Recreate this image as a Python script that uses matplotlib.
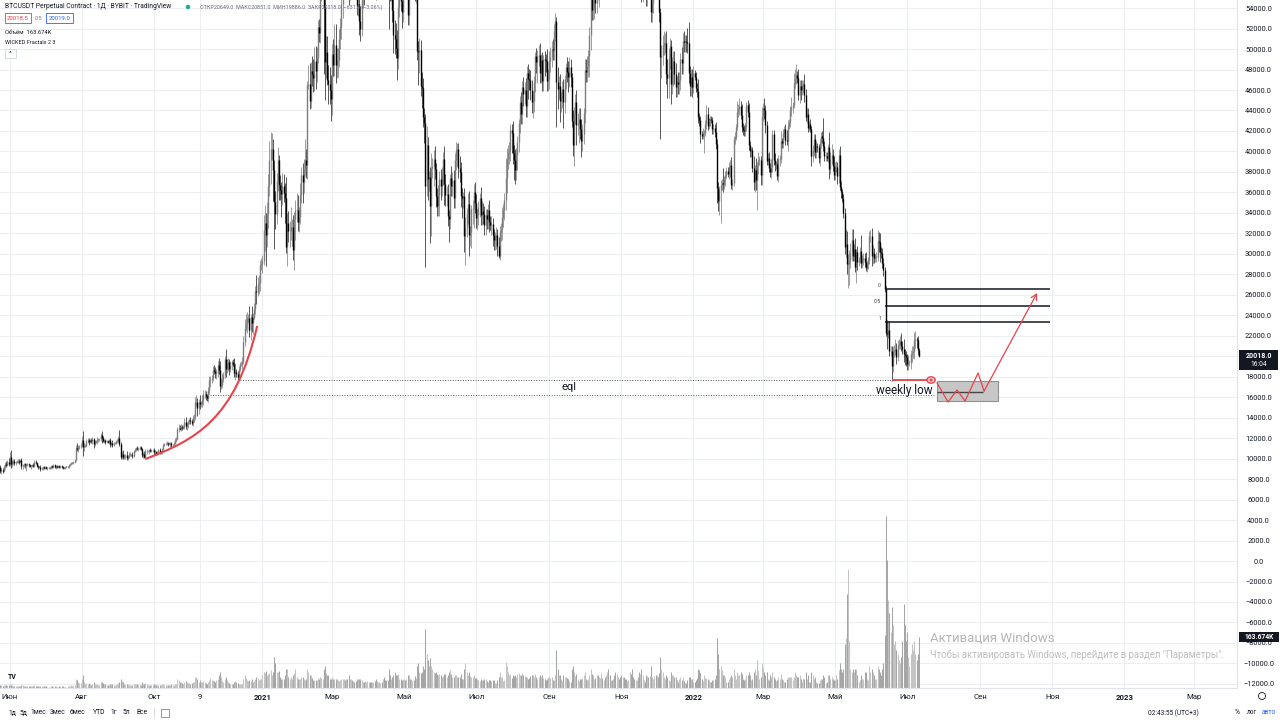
import numpy as np
import matplotlib
matplotlib.use('Agg')
import matplotlib.pyplot as plt
from matplotlib.path import Path
from matplotlib.patches import PathPatch, Rectangle, Ellipse, FancyArrowPatch

plt.rcParams['font.family'] = ['Roboto', 'DejaVu Sans']

# ---------------- data (daily BTCUSDT, values in hundreds of USDT) ----------------
start_date = np.datetime64('2020-05-24')
first_open = 91.8

close = [
 88,89,88,92,95,94,97,95,
 102,95,97,98,96,97,97,98,97,99, 93,94,95,94,94,95,94,93,93,94, 93,97,96,93,92,92,90,91,92,91,
 92,91,91,91,91,93,92,94,92,93, 92,93,92,93,92,91,91,92,92,92, 94,95,96,96,97,99,110,109,111,112, 113,
 118,111,112,112,117,118,116,118,117,119, 114,116,117,118,119,119,123,120,117,118, 116,117,116,118,114,115,113,115,115,117, 117,
 120,114,102,105,102,103,104,101,102,104, 104,104,103,107,108,110,109,109,111,109, 104,105,102,107,107,107,108,107,108,108,
 106,106,105,106,108,106,106,109,113,114, 114,115,114,114,115,113,113,115,118,119, 129,130,129,131,130,131,136,132,134,136, 138,
 137,135,140,141,155,155,149,155,153,153, 157,163,163,161,159,167,177,178,179,187, 186,184,184,191,187,171,172,178,182,197,
 188,192,194,188,191,194,192,184,185,183, 180,188,192,192,194,214,228,231,237,237, 226,238,232,237,246,264,263,271,272,289, 290,
 293,323,330,318,339,366,392,402,402,382, 351,339,371,392,367,362,358,366,359,355, 307,330,322,322,326,326,304,334,343,343, 331,
 336,357,377,370,383,392,387,465,466,449, 479,476,472,488,479,492,522,516,558,559, 575,541,487,497,470,466,460,451,
 495,484,504,484,489,489,510,522,544,559, 577,572,612,592,558,565,588,578,585,581, 576,542,544,527,520,550,559,557,579,588, 588,
 591,590,574,582,590,583,561,580,585,597, 600,598,633,631,630,614,603,561,557,564, 538,514,510,501,491,541,551,547,536,578,
 578,568,574,533,577,564,574,589,584,557, 566,498,497,499,464,462,434,428,366,406, 373,375,347,384,386,393,383,356,347,357, 373,
 366,377,393,368,357,358,337,334,374,366, 372,355,392,401,402,384,380,356,355,356, 317,326,339,349,318,321,344,345,360,350,
 335,338,346,355,338,342,339,328,338,334, 343,331,328,329,318,314,315,318,308,298, 321,324,336,343,353,374,393,398,401,421, 418,
 398,392,382,397,409,428,448,437,463,456, 460,444,477,471,470,460,448,449,468,493, 487,493,494,477,489,469,490,489,488,469, 471,
 488,492,500,499,518,527,468,461,464,449, 452,461,448,471,482,478,473,482,473,430, 406,437,448,426,428,432,422,410,417,438,
 480,478,483,493,514,555,538,539,549,545, 573,561,573,576,612,605,619,618,642,659, 627,606,612,608,632,603,585,609,622,618, 613,
 610,630,626,612,610,615,634,676,670,648, 647,643,645,654,636,602,603,566,580,591, 585,562,574,571,589,536,545,575,578,570,
 572,565,536,492,494,504,506,506,476,472, 491,503,466,484,488,476,463,468,466,470, 490,486,508,507,508,507,506,477,464,473, 463,
 477,473,462,459,434,431,417,415,418,418, 427,437,425,430,432,431,422,423,419,407, 364,352,362,367,369,368,372,377,381,378, 385,
 387,367,369,412,414,424,439,441,444,436, 424,421,420,425,445,439,406,400,401,384, 370,382,372,386,392,392,377,435,
 442,440,426,391,394,384,380,385,417,392, 388,388,376,393,393,410,408,418,422,411, 410,425,429,440,443,445,467,471,475,472, 455,
 464,460,465,466,455,434,437,423,427,422, 396,401,412,399,405,404,394,408,415,413, 405,396,396,394,404,383,393,397,386,377,
 385,385,376,397,365,360,355,340,307,310, 290,290,294,301,314,298,305,287,302,292, 294,303,291,294,296,292,286,290,294,317, 317,
 298,301,296,297,297,313,312,302,301,291, 284,266,223,222,226,205,205,190,205,206, 207,199,211,212,215,210,207,202,201,199,
 192,193,193,202,203,205,216,217,216,206.5, 200.18,
]

wick_up = [
 2,2,2,2,2,3,2,4,
 4,6,2,2,2,1,2,2,2,1, 2,1,1,1,2,1,1,1,1,1, 2,2,2,1,1,1,2,1,1,1,
 1,1,1,1,1,1,1,1,1,1, 1,1,1,1,1,1,1,1,1,1, 1,1,1,1,1,1,3,5,2,1, 2,
 4,9,3,2,2,2,2,1,2,2, 1,2,1,3,1,1,2,4,2,1, 1,1,1,1,2,1,3,1,1,1, 2,
 2,8,2,2,3,2,1,3,2,2, 2,1,2,1,2,1,2,2,1,1, 1,1,2,2,2,1,1,2,1,1,
 2,2,1,1,1,2,1,1,2,1, 2,2,1,2,1,1,1,1,2,2, 2,4,3,3,2,2,4,5,2,2, 2,
 3,2,3,3,5,7,4,3,7,3, 5,4,4,3,2,3,4,3,3,3, 4,3,4,4,7,8,7,6,3,3,
 10,5,4,3,4,2,3,6,8,3, 3,2,2,3,5,6,8,10,6,4, 12,3,11,5,6,5,15,6,7,5, 6,
 6,15,18,10,12,12,18,17,16,10, 10,10,8,12,5,10,8,13,12,10, 20,10,12,10,20,8,12,7,10,16, 14,
 10,12,8,12,10,20,10,4,18,20, 8,14,14,14,15,10,6,7,12,10, 8,10,8,16,16,14,16,15,
 10,15,20,20,12,12,10,8,14,15, 8,20,6,20,18,25,8,20,12,15, 12,20,15,28,15,5,10,15,15,10, 10,
 10,15,26,15,10,15,28,15,15,15, 15,22,4,15,20,25,25,3,26,16, 24,22,14,15,18,10,20,14,15,10,
 8,10,10,2,8,10,12,10,6,20, 8,14,10,12,10,14,10,8,9,19, 8,6,10,14,8,8,12,6,8,10, 8,
 10,8,6,12,10,8,10,6,4,12, 8,10,6,8,6,6,12,10,8,4, 8,10,6,10,12,6,4,8,8,10,
 8,6,6,4,10,10,8,8,6,6, 6,10,6,8,6,6,6,8,6,8, 6,6,10,6,6,20,10,8,8,6, 6,
 12,8,10,6,6,4,6,10,6,10, 8,12,6,8,10,10,10,10,6,4, 8,6,10,12,6,8,4,8,6,12, 10,
 10,10,8,10,6,8,4,14,10,12, 6,8,10,4,4,10,10,10,8,4, 10,6,8,12,10,10,10,10,10,4,
 10,10,10,6,8,6,10,10,6,8, 6,12,6,10,10,14,8,12,10,7, 16,12,8,10,8,10,10,8,8,12, 8,
 10,16,16,10,10,10,6,4,8,20, 10,8,8,12,14,8,6,12,10,10, 12,10,8,10,8,10,10,10,14,16,
 20,10,10,4,10,10,12,10,12,14, 10,8,6,8,10,10,10,6,10,8, 6,12,8,10,6,6,14,20,6,8, 8,
 6,3,5,5,12,4,4,3,5,3, 4,8,6,3,3,3,3,4,4,10, 5,6,4,5,4,15,4,4,4,4, 5,
 5,8,4,3,5,3,10,5,8,5, 10,4,5,3,3,5,8,4,3,3, 12,5,12,4,7,4,4,8,
 5,10,5,4,4,5,5,8,4,4, 6,3,6,4,4,10,3,4,3,5, 10,6,3,4,10,3,10,10,10,4, 9,
 6,6,5,4,10,6,5,5,3,5, 3,5,5,5,5,3,3,4,4,5, 20,5,3,3,3,15,6,10,5,10,
 5,6,5,5,8,6,3,3,5,14, 12,10,10,10,10,10,5,10,3,6, 3,4,15,5,5,5,10,3,3,5, 6,
 8,8,5,3,5,10,8,8,5,5, 5,3,3,12,8,8,5,5,5,5, 10,6,5,5,5,8,5,10,5,4,
 3,8,3,4,7,5,8,8,2,4, 2,
]

wick_dn = [
 2,3,2,1,2,2,1,2,
 2,4,3,3,2,2,1,1,2,1, 3,3,2,3,6,1,2,1,3,1, 1,1,1,1,2,1,2,1,2,1,
 1,1,2,1,1,1,1,1,1,2, 1,1,1,1,1,1,1,1,1,1, 1,1,1,1,1,1,1,2,3,2, 2,
 2,8,4,1,1,2,3,1,2,3, 4,2,1,3,2,2,2,5,1,2, 2,1,1,2,3,2,2,1,1,1, 2,
 1,2,2,2,2,2,3,2,2,1, 1,1,2,1,1,1,1,2,1,1, 2,3,1,1,2,1,2,1,1,1,
 2,2,1,1,1,1,1,1,1,1, 1,1,2,1,3,2,1,1,1,2, 1,3,1,2,2,1,2,3,4,4, 2,
 3,2,3,4,3,4,7,5,5,3, 3,5,4,4,3,4,4,7,4,3, 3,5,6,4,4,6,3,3,3,3,
 8,4,6,6,3,4,2,4,7,3, 4,2,2,2,4,2,4,3,8,4, 7,10,8,10,1,5,12,4,10,8, 5,
 9,4,20,30,11,14,10,24,10,30, 46,15,10,10,14,9,22,10,8,25, 6,19,10,15,8,18,10,20,20,12, 9,
 10,7,7,20,11,7,13,14,4,8, 7,12,14,13,18,11,6,9,10,11, 10,65,37,15,5,20,14,21,
 15,10,10,17,12,16,7,10,12,14, 10,12,10,10,15,10,9,10,18,15, 12,9,10,13,12,7,10,14,7,12, 10,
 10,12,15,10,15,10,13,10,15,10, 10,12,15,10,10,15,10,41,10,10, 12,18,15,10,21,10,10,10,15,10,
 12,10,15,10,10,10,10,10,15,10, 12,9,32,20,10,20,10,20,79,10, 20,12,36,30,10,20,10,10,10,10, 20,
 13,10,10,20,10,10,10,22,10,10, 10,10,10,10,15,10,10,10,20,10, 15,28,10,10,20,10,15,15,20,10,
 10,12,10,10,10,10,10,10,10,10, 10,10,5,10,10,10,10,10,10,2, 4,8,10,10,10,10,15,10,10,10, 20,
 10,20,14,10,15,10,10,10,10,12, 10,10,10,20,10,10,10,15,10,10, 10,20,10,10,10,10,10,15,10,10, 10,
 10,10,10,10,10,10,44,20,10,20, 10,10,25,10,10,10,15,10,10,6, 10,20,10,20,10,20,10,15,10,10,
 10,10,10,10,20,15,10,10,10,10, 10,10,20,10,10,20,10,10,20,10, 20,10,10,10,10,10,20,20,10,10, 20,
 10,10,20,10,10,10,10,10,15,10, 20,20,10,10,20,10,20,20,20,10, 10,20,20,10,10,10,10,10,15,10,
 20,10,10,80,20,10,10,10,10,20, 20,10,20,10,20,10,10,10,10,10, 10,10,10,10,10,10,10,10,10,10, 10,
 6,3,4,6,6,6,9,3,3,20, 3,5,4,3,5,3,5,5,5,5, 14,10,14,32,5,8,5,6,3,3, 5,
 10,4,5,3,5,3,3,5,5,4, 5,5,5,5,5,5,5,5,5,4, 8,10,10,29,8,5,10,10,
 5,8,8,4,4,4,5,6,5,5, 7,5,4,6,7,4,5,5,4,5, 4,10,3,5,5,5,3,5,5,5, 5,
 8,10,5,8,7,4,6,4,3,3, 10,6,5,5,5,5,5,8,5,5, 5,5,5,3,4,10,5,5,5,5,
 5,5,8,7,3,5,4,5,7,10, 10,23,20,8,8,5,5,5,15,8, 4,3,5,5,5,5,3,4,5,4, 5,
 10,8,5,4,5,4,10,10,5,5, 6,3,3,15,4,5,5,14,5,6, 5,7,4,4,5,5,5,8,10,9,
 5,5,3,5,8,5,8,8,8,5, 1.3,
]

volume_k = [
 8,9,7,10,9,8,9,10,
 12,10,8,7,6,5,6,7,6,7, 10,8,6,5,6,7,6,6,5,5, 6,8,7,7,6,5,6,5,6,5,
 5,5,4,4,4,5,5,6,5,5, 4,4,5,5,5,5,4,4,4,5, 7,7,8,7,8,10,30,25,18,15, 16,
 30,40,18,14,16,14,16,12,10,14, 18,14,12,12,10,10,20,18,16,12, 12,10,8,10,14,12,14,10,8,9, 12,
 16,18,30,22,20,14,12,14,12,11, 10,9,10,12,13,14,12,10,10,10, 18,14,14,16,12,10,9,10,9,10,
 12,14,10,9,10,10,9,12,14,11, 9,10,10,10,10,12,9,9,12,14, 30,26,20,18,16,14,20,22,18,17, 16,
 14,16,18,20,36,35,28,20,24,18, 20,22,20,16,14,18,26,32,24,26, 22,20,24,28,40,50,34,22,20,28,
 36,26,18,16,14,12,14,20,22,18, 16,14,12,12,14,30,42,32,24,22, 26,22,28,20,22,30,36,32,26,30, 28,
 40,50,48,54,40,44,48,56,40,50, 100,80,50,52,54,36,30,28,30,40, 62,60,36,28,34,30,40,48,60,36, 30,
 30,30,34,34,30,26,30,60,52,40, 40,32,26,24,26,24,32,30,36,32, 30,62,70,48,40,40,30,30,
 34,28,28,30,30,24,22,26,30,30, 28,26,28,30,40,30,30,26,22,20, 22,30,30,30,30,26,18,18,22,20, 22,
 20,18,20,18,20,22,28,22,18,18, 16,20,28,36,26,26,24,60,40,28, 34,40,50,40,40,44,30,30,26,30,
 26,24,30,40,40,30,28,24,26,38, 32,70,80,52,48,50,70,60,190,110, 90,70,96,70,60,50,48,50,46,40, 44,
 40,36,38,46,44,34,40,50,56,44, 36,36,40,40,36,36,34,44,30,30, 60,80,50,40,52,38,36,36,40,32,
 32,28,24,22,28,26,24,30,30,22, 18,24,24,22,24,24,16,16,24,36, 50,36,34,22,24,84,70,50,40,46, 32,
 40,38,40,36,44,48,40,42,48,42, 38,34,36,30,32,38,40,40,36,46, 36,30,36,42,36,40,32,28,24,30, 36,
 36,32,36,24,26,40,120,60,40,40, 30,22,40,34,34,32,28,22,18,60, 70,50,38,46,30,22,30,30,32,40,
 50,30,24,30,40,60,44,40,28,32, 40,40,36,32,48,32,26,34,40,50, 60,40,26,24,30,40,50,44,36,30, 34,
 40,36,34,30,28,22,26,50,44,60, 36,30,26,24,36,52,44,60,42,26, 20,40,38,36,38,70,34,30,38,40,
 40,34,48,100,60,50,34,30,40,36, 24,22,50,40,40,36,36,24,20,30, 34,26,34,22,16,16,24,36,36,30, 30,
 20,18,26,32,60,56,48,30,22,40, 32,32,30,26,20,18,24,26,30,40, 160,110,60,70,56,40,40,36,20,20, 30,
 34,40,36,60,40,30,50,40,40,50, 46,30,26,30,40,40,50,40,24,30, 50,60,40,90,56,30,36,80,
 66,50,40,50,30,26,40,36,50,36, 30,22,26,34,30,44,28,26,20,18, 30,34,36,36,34,24,34,50,40,36, 36,
 40,30,20,30,30,50,30,40,20,20, 50,40,30,36,20,16,16,24,30,30, 40,34,16,18,40,40,30,36,30,24,
 26,40,30,56,80,60,50,60,140,160, 300,380,150,60,50,60,50,60,60,40, 20,24,40,30,30,50,50,30,24,70, 50,
 60,50,40,30,30,70,60,50,40,60, 80,170,550,410,280,240,180,260,200,140, 150,120,110,90,80,100,150,270,200,150,
 180,100,70,110,140,120,150,110,90,110, 163.674,
]

tick_dates = ['2020-06-01', '2020-08-01', '2020-10-01', '2020-11-09', '2021-01-01', '2021-03-01',
              '2021-05-01', '2021-07-01', '2021-09-01', '2021-11-01', '2022-01-01', '2022-03-01',
              '2022-05-01', '2022-07-01', '2022-09-01', '2022-11-01', '2023-01-01', '2023-03-01']
tick_labels = ['Июн', 'Авг', 'Окт', '9', '2021', 'Мар', 'Май', 'Июл', 'Сен', 'Ноя',
               '2022', 'Мар', 'Май', 'Июл', 'Сен', 'Ноя', '2023', 'Мар']
year_labels = {'2021', '2022', '2023'}

price_ticks = list(range(-12000, 54001, 2000))

# annotation drawings (day index, USDT)
curve_pts = [(122.8, 9960), (165.1, 11820), (199.0, 13770), (217.6, 22950)]
eql_upper = (17680, 203.2, 791.7)
eql_lower = (16210, 177.8, 791.7)
fib_levels = [('0', 26560), ('0.5', 24950), ('1', 23340)]
fib_x = (749.4, 889.0)
weekly_low = (17680, 755.3, 785.8)
box_x = (793.4, 845.0)
box_y = (15625, 17580)
box_mid = (16500, 793.4, 832.3)
zigzag = [(793.4, 17380), (802.7, 15530), (810.3, 16700), (817.1, 15625),
          (828.1, 18360), (833.2, 16600), (878.1, 26170)]

toolbar = [(12, '1д'), (23, '5д'), (38, '1мес'), (58, '3мес'), (78, '6мес'),
           (99, 'YTD'), (114, '1г'), (126, '5л'), (142, 'Все')]

assert len(close) == len(wick_up) == len(wick_dn) == len(volume_k)

# ---------------- derived candle arrays ----------------
n = len(close)
x = np.arange(n)
c = np.array(close, float) * 100
o = np.concatenate([[first_open], close[:-1]]).astype(float) * 100
body_hi = np.maximum(o, c)
body_lo = np.minimum(o, c)
hi = body_hi + np.array(wick_up, float) * 100
lo = body_lo - np.array(wick_dn, float) * 100
body_hi = np.where(body_hi - body_lo < 60, body_lo + 60, body_hi)
vol = np.array(volume_k, float)
up = c >= o

# ---------------- figure ----------------
W, H = 1280, 720
fig = plt.figure(figsize=(12.8, 7.2), dpi=100)
fig.patch.set_facecolor('white')
ax = fig.add_axes([0, 1 - 688 / H, 1237 / W, 688 / H])
ax.set_facecolor('white')
ax.set_xlim(-0.2, 1047.4)
ax.set_ylim(-12400, 54790)

xt = [int((np.datetime64(d) - start_date).astype(int)) for d in tick_dates]
ax.set_xticks(xt)
ax.set_xticklabels(tick_labels)
for lbl in ax.get_xticklabels():
    if lbl.get_text() in year_labels:
        lbl.set_fontweight('bold')
ax.tick_params(axis='x', length=0, pad=4, labelsize=5.6, colors='#131722')

ax.set_yticks(price_ticks)
ax.set_yticklabels([f'{v:.1f}'.replace('-', '\u2212') for v in price_ticks])
ax.yaxis.tick_right()
ax.tick_params(axis='y', length=0, pad=15.5, labelsize=5.3, colors='#131722')
for lbl in ax.get_yticklabels():
    lbl.set_horizontalalignment('center')

ax.grid(True, color='#eceef2', lw=0.8)
ax.set_axisbelow(True)
for s in ['top', 'left']:
    ax.spines[s].set_visible(False)
for s in ['right', 'bottom']:
    ax.spines[s].set_color('#e0e3eb')
    ax.spines[s].set_linewidth(0.8)

# volume (bottom overlay, 1 px ~ 3.2K)
trans = ax.get_xaxis_transform()
ax.vlines(x[up], 0, vol[up] / 2200.0, transform=trans, color='#c4c4c4', lw=0.75, zorder=1)
ax.vlines(x[~up], 0, vol[~up] / 2200.0, transform=trans, color='#a6a6a6', lw=0.75, zorder=1)

# candles
ax.vlines(x[up], lo[up], hi[up], color='#777777', lw=0.5, zorder=3)
ax.vlines(x[~up], lo[~up], hi[~up], color='#151515', lw=0.5, zorder=3)
ax.vlines(x[up], body_lo[up], body_hi[up], color='#7d7d7d', lw=1.0, zorder=4)
ax.vlines(x[~up], body_lo[~up], body_hi[~up], color='#000000', lw=1.0, zorder=4)

# red curve
red = '#e8434b'
path = Path(curve_pts, [Path.MOVETO, Path.CURVE4, Path.CURVE4, Path.CURVE4])
ax.add_patch(PathPatch(path, fc='none', ec=red, lw=1.5, zorder=6))

# eql dotted lines
for yv, x0, x1 in (eql_upper, eql_lower):
    ax.hlines(yv, x0, x1, colors='#555555', lw=0.7, linestyles=(0, (1, 1.6)), zorder=5)
ax.text(481.8, 17000, 'eql', fontsize=8, color='#131722', ha='center', va='center', zorder=7)

# fib lines
for lab, yv in fib_levels:
    ax.hlines(yv, fib_x[0], fib_x[1], colors='#131722', lw=1.1, zorder=6)
    ax.text(fib_x[0] - 3.5, yv + 390, lab, fontsize=3.8, color='#444444', ha='right', va='center', zorder=7)

# weekly low marker
ax.hlines(weekly_low[0], weekly_low[1], weekly_low[2], colors=red, lw=1.3, zorder=7)
ax.add_patch(Ellipse((788.3, weekly_low[0]), 7.0, 620, fc='#ffc9cc', ec=red, lw=1.0, zorder=8))
ax.add_patch(Ellipse((788.3, weekly_low[0]), 2.6, 230, fc=red, ec='none', zorder=9))
ax.text(765.5, 16650, 'weekly low', fontsize=8.5, color='#131722', ha='center', va='center', zorder=9)

# grey box + zigzag
ax.add_patch(Rectangle((box_x[0], box_y[0]), box_x[1] - box_x[0], box_y[1] - box_y[0],
                       fc='#c4c4c4', ec='#8c8c8c', lw=0.8, alpha=0.95, zorder=6))
ax.hlines(box_mid[0], box_mid[1], box_mid[2], colors='#444444', lw=1.0, zorder=7)
zx = [p[0] for p in zigzag[:-1]]
zy = [p[1] for p in zigzag[:-1]]
ax.plot(zx, zy, color=red, lw=0.9, zorder=8)
ax.add_patch(FancyArrowPatch(zigzag[-2], zigzag[-1], arrowstyle='->,head_length=4,head_width=2.2',
                             color=red, lw=0.9, zorder=8, shrinkA=0, shrinkB=0))

# ---------------- overlay texts (figure pixel coords) ----------------
def ft(xp, yp, s, **kw):
    return fig.text(xp / W, 1 - yp / H, s, **kw)

def frect(x0, y0, x1, y1, **kw):
    r = Rectangle((x0 / W, 1 - y1 / H), (x1 - x0) / W, (y1 - y0) / H,
                  transform=fig.transFigure, **kw)
    fig.add_artist(r)
    return r

dark = '#131722'
ft(5, 7, 'BTCUSDT Perpetual Contract · 1Д · BYBIT · TradingView', fontsize=4.9, color=dark, va='center')
fig.add_artist(Ellipse((188 / W, 1 - 7 / H), 4.5 / W, 4.5 / H, transform=fig.transFigure,
                       fc='#22ab94', ec='none', zorder=5))
ft(200, 7, 'ОТКР20649.0  МАКС20851.0  МИН19886.0  ЗАКР20018.0  \u2212631.0 (\u22123.06%)',
   fontsize=3.9, color='#6a6d78', va='center')
frect(5, 13, 31, 23, fc='white', ec='#f23645', lw=0.6, zorder=5)
ft(18, 18, '20018.5', fontsize=4.3, color='#f23645', ha='center', va='center', zorder=6)
ft(39, 18, '0.5', fontsize=4.0, color='#787b86', ha='center', va='center')
frect(46, 13, 73, 23, fc='white', ec='#2962ff', lw=0.6, zorder=5)
ft(59.5, 18, '20019.0', fontsize=4.3, color='#2962ff', ha='center', va='center', zorder=6)
ft(5, 32, 'Объём  163.674K', fontsize=4.2, color=dark, va='center')
ft(5, 43, 'WICKED Fractals 2 3', fontsize=4.0, color=dark, va='center')
frect(5, 49, 16, 58, fc='white', ec='#d1d4dc', lw=0.6, zorder=5)
ft(10.5, 53.5, '^', fontsize=4.5, color=dark, ha='center', va='center', zorder=6)

# price / volume markers on right scale
frect(1239, 350, 1278, 370, fc=dark, ec='none', zorder=10)
ft(1258.5, 355.5, '20018.0', fontsize=5.0, color='white', ha='center', va='center', fontweight='bold', zorder=11)
ft(1258.5, 364.5, '16:04', fontsize=4.8, color='white', ha='center', va='center', zorder=11)
frect(1239, 632, 1279, 642, fc=dark, ec='none', zorder=10)
ft(1259, 637, '163.674K', fontsize=4.9, color='white', ha='center', va='center', fontweight='bold', zorder=11)

# windows watermark
ft(930, 639, 'Активация Windows', fontsize=9.5, color='#a9a9a9', va='center', alpha=0.85)
ft(930, 655, 'Чтобы активировать Windows, перейдите в раздел "Параметры".', fontsize=6.9,
   color='#b3b3b3', va='center', alpha=0.85)

# logo
ft(12, 677, 'TV', fontsize=5.0, color=dark, ha='center', va='center', fontweight='bold')

# bottom toolbar
for xp, s in toolbar:
    ft(xp, 713, s, fontsize=4.9, color=dark, ha='center', va='center')
fig.add_artist(plt.Line2D([154 / W, 154 / W], [1 - 708 / H, 1 - 718 / H], transform=fig.transFigure,
                          color='#d1d4dc', lw=0.6))
frect(161, 709, 169, 717, fc='white', ec='#6a6d78', lw=0.5)
ft(1199, 713, '02:43:55 (UTC+3)', fontsize=4.7, color=dark, ha='right', va='center')
ft(1237, 713, '%', fontsize=4.9, color=dark, ha='center', va='center')
ft(1252, 713, 'лог', fontsize=4.7, color=dark, ha='center', va='center')
ft(1269, 713, 'авто', fontsize=4.7, color='#2962ff', ha='center', va='center')
fig.add_artist(Ellipse((1262 / W, 1 - 696 / H), 7 / W, 7 / H, transform=fig.transFigure,
                       fc='none', ec=dark, lw=0.6))

fig.savefig('out.png', dpi=100)
